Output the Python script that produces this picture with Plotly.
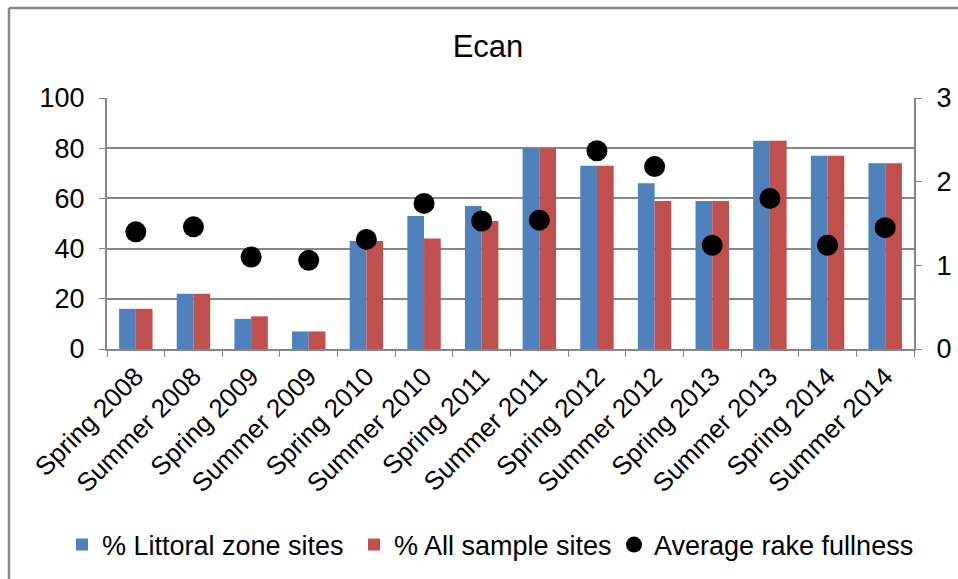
import plotly.graph_objects as go

categories = ["Spring 2008", "Summer 2008", "Spring 2009", "Summer 2009", "Spring 2010",
              "Summer 2010", "Spring 2011", "Summer 2011", "Spring 2012", "Summer 2012",
              "Spring 2013", "Summer 2013", "Spring 2014", "Summer 2014"]
littoral_pct = [16, 22, 12, 7, 43, 53, 57, 80, 73, 66, 59, 83, 77, 74]
all_sites_pct = [16, 22, 13, 7, 43, 44, 51, 80, 73, 59, 59, 83, 77, 74]
rake_fullness = [1.40, 1.46, 1.10, 1.06, 1.31, 1.74, 1.53, 1.54, 2.37, 2.18, 1.24, 1.80, 1.24, 1.45]

W, H = 958, 579
ML, MR, MT, MB = 107, 44, 98, 230
PW, PH = W - ML - MR, H - MT - MB

FONT = "Liberation Sans, Arial, sans-serif"
GRAY = "#868686"

fig = go.Figure()
fig.add_trace(go.Bar(x=categories, y=littoral_pct, name="% Littoral zone sites",
                     marker=dict(color="#4F81BD", line=dict(width=0)), legend="legend"))
fig.add_trace(go.Bar(x=categories, y=all_sites_pct, name="% All sample sites",
                     marker=dict(color="#C0504D", line=dict(width=0)), legend="legend2"))
fig.add_trace(go.Scatter(x=categories, y=rake_fullness, name="Average rake fullness",
                         mode="markers", yaxis="y2", legend="legend3",
                         marker=dict(color="black", size=21, symbol="circle")))


def px_x(px):
    return (px - ML) / PW


def px_y(py):
    return (H - MB - py) / PH


def legend_at(left_px):
    return dict(orientation="h", xref="container", yref="container",
                x=left_px / W, xanchor="left", y=1 - 545 / H, yanchor="middle",
                font=dict(size=27, family=FONT, color="black"), itemsizing="trace",
                itemwidth=30, bgcolor="rgba(0,0,0,0)", borderwidth=0)


fig.update_layout(
    width=W, height=H,
    margin=dict(l=ML, r=MR, t=MT, b=MB, autoexpand=False),
    paper_bgcolor="white", plot_bgcolor="white",
    font=dict(family=FONT, color="black", size=26),
    barmode="group", bargap=0.42, bargroupgap=0,
    title=dict(text="Ecan", x=488 / W, xanchor="center", y=1 - 46 / H, yanchor="middle",
               font=dict(size=31, family=FONT, color="black")),
    showlegend=True,
    legend=legend_at(62),
    legend2=legend_at(354),
    legend3=legend_at(614),
    xaxis=dict(type="category", range=[-0.5, len(categories) - 0.5], tickangle=-45,
               ticks="outside", tickson="boundaries",
               ticklen=6, tickcolor=GRAY, showline=True, linecolor=GRAY, linewidth=2,
               showgrid=False, tickfont=dict(size=26, family=FONT, color="black")),
    yaxis=dict(range=[0, 100], dtick=20, ticks="outside", ticklen=6, tickcolor=GRAY,
               showline=True, linecolor=GRAY, linewidth=2, showgrid=True, gridcolor=GRAY,
               gridwidth=1.5, zeroline=False, ticklabelstandoff=9,
               tickfont=dict(size=27, family=FONT, color="black")),
    yaxis2=dict(range=[0, 3], dtick=1, overlaying="y", side="right", ticks="outside",
                ticklen=6, tickcolor=GRAY, showline=True, linecolor=GRAY, linewidth=2,
                showgrid=False, zeroline=False, ticklabelstandoff=9,
                tickfont=dict(size=27, family=FONT, color="black")),
    shapes=[
        dict(type="line", xref="paper", yref="paper", x0=px_x(9), x1=px_x(9),
             y0=px_y(8), y1=px_y(590), line=dict(color=GRAY, width=2.5)),
        dict(type="line", xref="paper", yref="paper", x0=px_x(9), x1=px_x(970),
             y0=px_y(8), y1=px_y(8), line=dict(color=GRAY, width=2.5)),
    ],
)

fig.write_html("out.html", config={"displayModeBar": False},
               post_script="document.body.style.margin='0';document.body.style.overflow='hidden';")
